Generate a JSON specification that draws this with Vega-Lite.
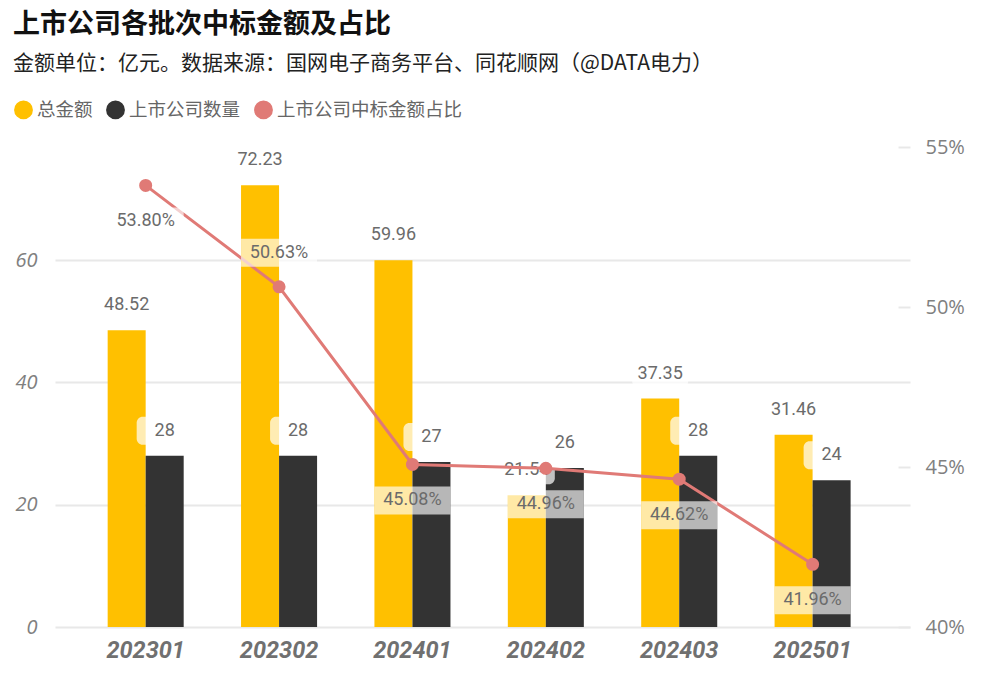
{
  "$schema": "https://vega.github.io/schema/vega-lite/v6.json",
  "width": 855,
  "height": 480,
  "autosize": "none",
  "padding": {"left": 55, "top": 147, "right": 74, "bottom": 61},
  "background": "#ffffff",
  "title": {
    "text": "上市公司各批次中标金额及占比",
    "subtitle": "金额单位：亿元。数据来源：国网电子商务平台、同花顺网（@DATA电力）",
    "anchor": "start",
    "dx": -1,
    "offset": 25,
    "font": "Noto Sans CJK SC",
    "fontSize": 27,
    "fontWeight": "bold",
    "color": "#111111",
    "subtitleFont": "Noto Sans CJK SC",
    "subtitleFontSize": 21,
    "subtitleColor": "#222222",
    "subtitlePadding": 14
  },
  "data": {
    "values": [
      {"批次": "202301", "总金额": 48.52, "上市公司数量": 28, "占比": 0.538},
      {"批次": "202302", "总金额": 72.23, "上市公司数量": 28, "占比": 0.5063},
      {"批次": "202401", "总金额": 59.96, "上市公司数量": 27, "占比": 0.4508},
      {"批次": "202402", "总金额": 21.54, "上市公司数量": 26, "占比": 0.4496},
      {"批次": "202403", "总金额": 37.35, "上市公司数量": 28, "占比": 0.4462},
      {"批次": "202501", "总金额": 31.46, "上市公司数量": 24, "占比": 0.4196}
    ]
  },
  "encoding": {
    "x": {
      "field": "批次",
      "type": "nominal",
      "sort": null,
      "scale": {"paddingInner": 0.43, "paddingOuter": 0.42, "align": 0.47},
      "axis": {
        "title": null,
        "domain": false,
        "ticks": false,
        "labelAngle": 0,
        "labelPadding": 11,
        "labelFont": "Roboto",
        "labelFontSize": 23.5,
        "labelFontWeight": "bold",
        "labelFontStyle": "italic",
        "labelColor": "#707070"
      }
    }
  },
  "layer": [
    {
      "transform": [{"fold": ["总金额", "上市公司数量"], "as": ["系列", "值"]}],
      "encoding": {
        "y": {
          "field": "值",
          "type": "quantitative",
          "scale": {"domain": [0, 78.5], "nice": false},
          "axis": {
            "title": null,
            "values": [0, 20, 40, 60],
            "domain": false,
            "ticks": false,
            "grid": true,
            "gridColor": "#e8e8e8",
            "gridWidth": 2,
            "labelPadding": 18,
            "labelFont": "Open Sans",
            "labelFontSize": 20,
            "labelFontStyle": "italic",
            "labelColor": "#808080"
          }
        },
        "xOffset": {
          "field": "系列",
          "type": "nominal",
          "sort": ["总金额", "上市公司数量"],
          "scale": {"paddingInner": 0, "paddingOuter": 0}
        }
      },
      "layer": [
        {
          "mark": {"type": "bar"},
          "encoding": {
            "color": {
              "field": "系列",
              "type": "nominal",
              "scale": {
                "domain": ["总金额", "上市公司数量", "上市公司中标金额占比"],
                "range": ["#FFC000", "#333333", "#E07A76"]
              },
              "legend": {
                "title": null,
                "orient": "none",
                "direction": "horizontal",
                "legendX": -41,
                "legendY": -47,
                "symbolType": "circle",
                "symbolSize": 300,
                "symbolOpacity": 1,
                "labelFont": "Noto Sans CJK SC",
                "labelFontSize": 18.5,
                "labelColor": "#666666",
                "labelLimit": 400,
                "labelOffset": 4,
                "columnPadding": 10
              }
            }
          }
        },
        {
          "mark": {
            "type": "tick",
            "orient": "horizontal",
            "size": 56,
            "thickness": 28,
            "cornerRadius": 6,
            "yOffset": -25,
            "color": "#ffffff",
            "opacity": 0.7
          }
        },
        {
          "mark": {
            "type": "text",
            "dy": -25,
            "baseline": "middle",
            "font": "Roboto",
            "fontSize": 18,
            "color": "#6b6b6b"
          },
          "encoding": {"text": {"field": "值", "type": "quantitative"}}
        }
      ]
    },
    {
      "encoding": {
        "y": {
          "field": "占比",
          "type": "quantitative",
          "scale": {"domain": [0.4, 0.55], "nice": false, "zero": false},
          "axis": {
            "title": null,
            "orient": "right",
            "values": [0.4, 0.45, 0.5, 0.55],
            "format": ".0%",
            "grid": false,
            "domain": false,
            "offset": -12,
            "tickSize": 12,
            "tickColor": "#e8e8e8",
            "tickWidth": 2,
            "labelPadding": 15,
            "labelFont": "Open Sans",
            "labelFontSize": 20,
            "labelColor": "#808080"
          }
        }
      },
      "layer": [
        {
          "mark": {"type": "line", "strokeWidth": 3},
          "encoding": {"color": {"datum": "上市公司中标金额占比"}}
        },
        {
          "mark": {"type": "point", "filled": true, "size": 170, "opacity": 1},
          "encoding": {"color": {"datum": "上市公司中标金额占比"}}
        },
        {
          "transform": [{"filter": "datum['批次'] != '202302'"}],
          "layer": [
            {
              "mark": {
                "type": "tick",
                "orient": "horizontal",
                "size": 76,
                "thickness": 28,
                "yOffset": 36,
                "color": "#ffffff",
                "opacity": 0.65
              }
            },
            {
              "mark": {
                "type": "text",
                "dy": 36,
                "baseline": "middle",
                "font": "Roboto",
                "fontSize": 18,
                "color": "#6b6b6b"
              },
              "encoding": {"text": {"field": "占比", "type": "quantitative", "format": ".2%"}}
            }
          ]
        },
        {
          "transform": [{"filter": "datum['批次'] == '202302'"}],
          "layer": [
            {
              "mark": {
                "type": "tick",
                "orient": "horizontal",
                "size": 76,
                "thickness": 28,
                "yOffset": -34,
                "color": "#ffffff",
                "opacity": 0.65
              }
            },
            {
              "mark": {
                "type": "text",
                "dy": -34,
                "baseline": "middle",
                "font": "Roboto",
                "fontSize": 18,
                "color": "#6b6b6b"
              },
              "encoding": {"text": {"field": "占比", "type": "quantitative", "format": ".2%"}}
            }
          ]
        }
      ]
    }
  ],
  "resolve": {"scale": {"y": "independent"}},
  "config": {"view": {"stroke": null}}
}
